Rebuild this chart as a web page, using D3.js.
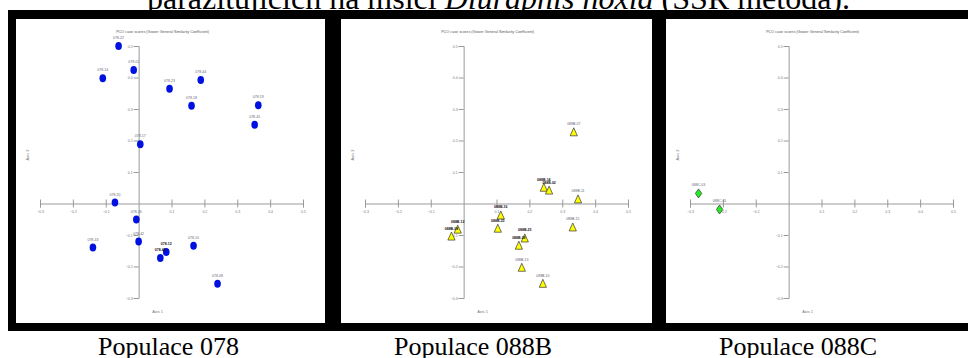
<!DOCTYPE html>
<html>
<head>
<meta charset="utf-8">
<script src="https://cdn.jsdelivr.net/npm/d3@7/dist/d3.min.js"></script>
<style>
  body { margin: 0; background: #fff; }
  svg { display: block; }
</style>
</head>
<body>
<svg id="chart" width="968" height="358"></svg>
<script>
// data (Axis 1, Axis 2 scores)
const captions = ["Populace 078", "Populace 088B", "Populace 088C"];
const plotTitle = "PCO case scores (Gower General Similarity Coefficient)";

const names078 = ["078-22", "078-01", "078-14", "078-23", "078-44", "078-18", "078-19", "078-45", "078-17",
                  "078-20", "078-16", "078-42", "078-43", "078-12", "078-48", "078-10", "078-08"];
const axis1_078 = [-0.061, -0.015, -0.109, 0.094, 0.189, 0.161, 0.364, 0.353, 0.005,
                   -0.072, -0.007, 0.0, -0.139, 0.084, 0.066, 0.167, 0.24];
const axis2_078 = [0.5, 0.424, 0.398, 0.364, 0.392, 0.31, 0.312, 0.25, 0.188,
                   0.003, -0.051, -0.121, -0.14, -0.154, -0.173, -0.134, -0.255];

const names088B = ["088B-07", "088B-14", "088B-02", "088B-11", "088B-16", "088B-23", "088B-15",
                   "088B-12", "088B-08", "088B-25", "088B-09", "088B-13", "088B-10"];
const axis1_088B = [0.335, 0.244, 0.26, 0.348, 0.113, 0.104, 0.332, -0.018, -0.037, 0.186, 0.168, 0.177, 0.241];
const axis2_088B = [0.226, 0.05, 0.041, 0.013, -0.038, -0.08, -0.076, -0.083, -0.105, -0.111, -0.134, -0.204, -0.255];

const names088C = ["088C-03", "088C-01"];
const axis1_088C = [-0.274, -0.21];
const axis2_088C = [0.032, -0.019];

const xTicks = [-0.3, -0.2, -0.1, 0.1, 0.2, 0.3, 0.4, 0.5];
const yTicks = [-0.3, -0.2, -0.1, 0.1, 0.2, 0.3, 0.4, 0.5];

const svg = d3.select("#chart");

// heading line cut off at the top of the page
const head = svg.append("text")
  .attr("x", 147).attr("y", 8.5)
  .style("font-family", "'Liberation Serif', 'Times New Roman', serif")
  .style("font-size", "32px")
  .attr("fill", "#000");
head.append("tspan").text("parazitujících na mšici ");
head.append("tspan").style("font-style", "italic").text("Diuraphis noxia");
head.append("tspan").text(" (SSR metoda).");

// black table frame with three white cells
const cellX = [16, 341, 666];
const cellW = [309, 311, 320];
svg.append("rect").attr("x", 8).attr("y", 10).attr("width", 980).attr("height", 321).attr("fill", "#000");
svg.selectAll(".cell").data(cellX).enter().append("rect")
  .attr("class", "cell")
  .attr("x", d => d).attr("y", 19)
  .attr("width", (d, i) => cellW[i]).attr("height", 304)
  .attr("fill", "#fff");

const captionX = [168.5, 473, 798];
svg.selectAll(".caption").data(captions).enter().append("text")
  .attr("class", "caption")
  .attr("x", (d, i) => captionX[i]).attr("y", 355)
  .attr("text-anchor", "middle")
  .style("font-family", "'Liberation Serif', 'Times New Roman', serif")
  .style("font-size", "26px")
  .text(d => d);

const panels = [
  { names: names078, a1: axis1_078, a2: axis2_078, shape: "ellipse" },
  { names: names088B, a1: axis1_088B, a2: axis2_088B, shape: "triangle" },
  { names: names088C, a1: axis1_088C, a2: axis2_088C, shape: "diamond" }
];

panels.forEach((p, i) => drawPanel(p, cellX[i]));

function drawPanel(p, cx) {
  const x = d3.scaleLinear().domain([-0.3, 0.5]).range([cx + 24, cx + 287]);
  const y = d3.scaleLinear().domain([-0.3, 0.5]).range([298, 46]);
  const g = svg.append("g");

  g.append("text")
    .attr("x", x(0) + 24).attr("y", 33)
    .attr("text-anchor", "middle")
    .attr("textLength", 93).attr("lengthAdjust", "spacingAndGlyphs")
    .style("font-family", "Arial, 'Liberation Sans', sans-serif")
    .style("font-size", "4px")
    .attr("fill", "#555")
    .text(plotTitle);

  // x axis through y = 0
  const gx = g.append("g")
    .attr("transform", "translate(0," + y(0) + ")")
    .call(d3.axisBottom(x).tickValues(xTicks).tickSizeOuter(0).tickSize(4).tickFormat(d3.format(".1f")));
  gx.select(".domain").attr("stroke", "#999");
  gx.selectAll(".tick line").attr("y1", -4).attr("y2", 4).attr("stroke", "#999");
  gx.selectAll(".tick text").attr("y", 7)
    .style("font-size", "3.5px").style("font-family", "Arial, sans-serif").attr("fill", "#777");

  // y axis through x = 0
  const gy = g.append("g")
    .attr("transform", "translate(" + x(0) + ",0)")
    .call(d3.axisLeft(y).tickValues(yTicks).tickSizeOuter(0).tickSize(5).tickFormat(d3.format(".1f")));
  gy.select(".domain").attr("stroke", "#999");
  gy.selectAll(".tick line").attr("stroke", "#999");
  gy.selectAll(".tick text").attr("x", -6)
    .style("font-size", "3.5px").style("font-family", "Arial, sans-serif").attr("fill", "#777");

  g.append("text")
    .attr("transform", "translate(" + (cx + 13) + ",155) rotate(-90)")
    .attr("text-anchor", "middle")
    .style("font-size", "4px").style("font-family", "Arial, sans-serif").attr("fill", "#777")
    .text("Axis 2");
  g.append("text")
    .attr("x", x(0) + 19).attr("y", 313)
    .attr("text-anchor", "middle")
    .style("font-size", "4px").style("font-family", "Arial, sans-serif").attr("fill", "#777")
    .text("Axis 1");

  const pts = p.names.map((n, k) => ({ name: n, px: x(p.a1[k]), py: y(p.a2[k]) }));
  // labels of crowded points print darker (they overlap in the original)
  pts.forEach(d => {
    d.crowded = pts.some(o => o !== d && Math.hypot(o.px - d.px, o.py - d.py) < 14);
  });

  const marks = g.selectAll(".pt").data(pts).enter().append("g")
    .attr("class", "pt")
    .attr("transform", d => "translate(" + d.px + "," + d.py + ")");

  if (p.shape === "ellipse") {
    marks.append("ellipse").attr("rx", 3.3).attr("ry", 4).attr("fill", "#0010e0");
  } else if (p.shape === "triangle") {
    marks.append("path").attr("d", "M0,-4.5L3.6,3.5L-3.6,3.5Z")
      .attr("fill", "#ffff00").attr("stroke", "#333").attr("stroke-width", 0.7);
  } else {
    marks.append("path").attr("d", "M0,-4.5L3.2,0L0,4.5L-3.2,0Z")
      .attr("fill", "#22ee22").attr("stroke", "#333").attr("stroke-width", 0.7);
  }

  marks.append("text")
    .attr("y", -7)
    .attr("text-anchor", "middle")
    .style("font-family", "Arial, sans-serif")
    .style("font-size", "3.5px")
    .style("font-weight", d => d.crowded ? "bold" : "normal")
    .attr("fill", d => d.crowded ? "#111" : "#667")
    .text(d => d.name);
}
</script>
</body>
</html>
